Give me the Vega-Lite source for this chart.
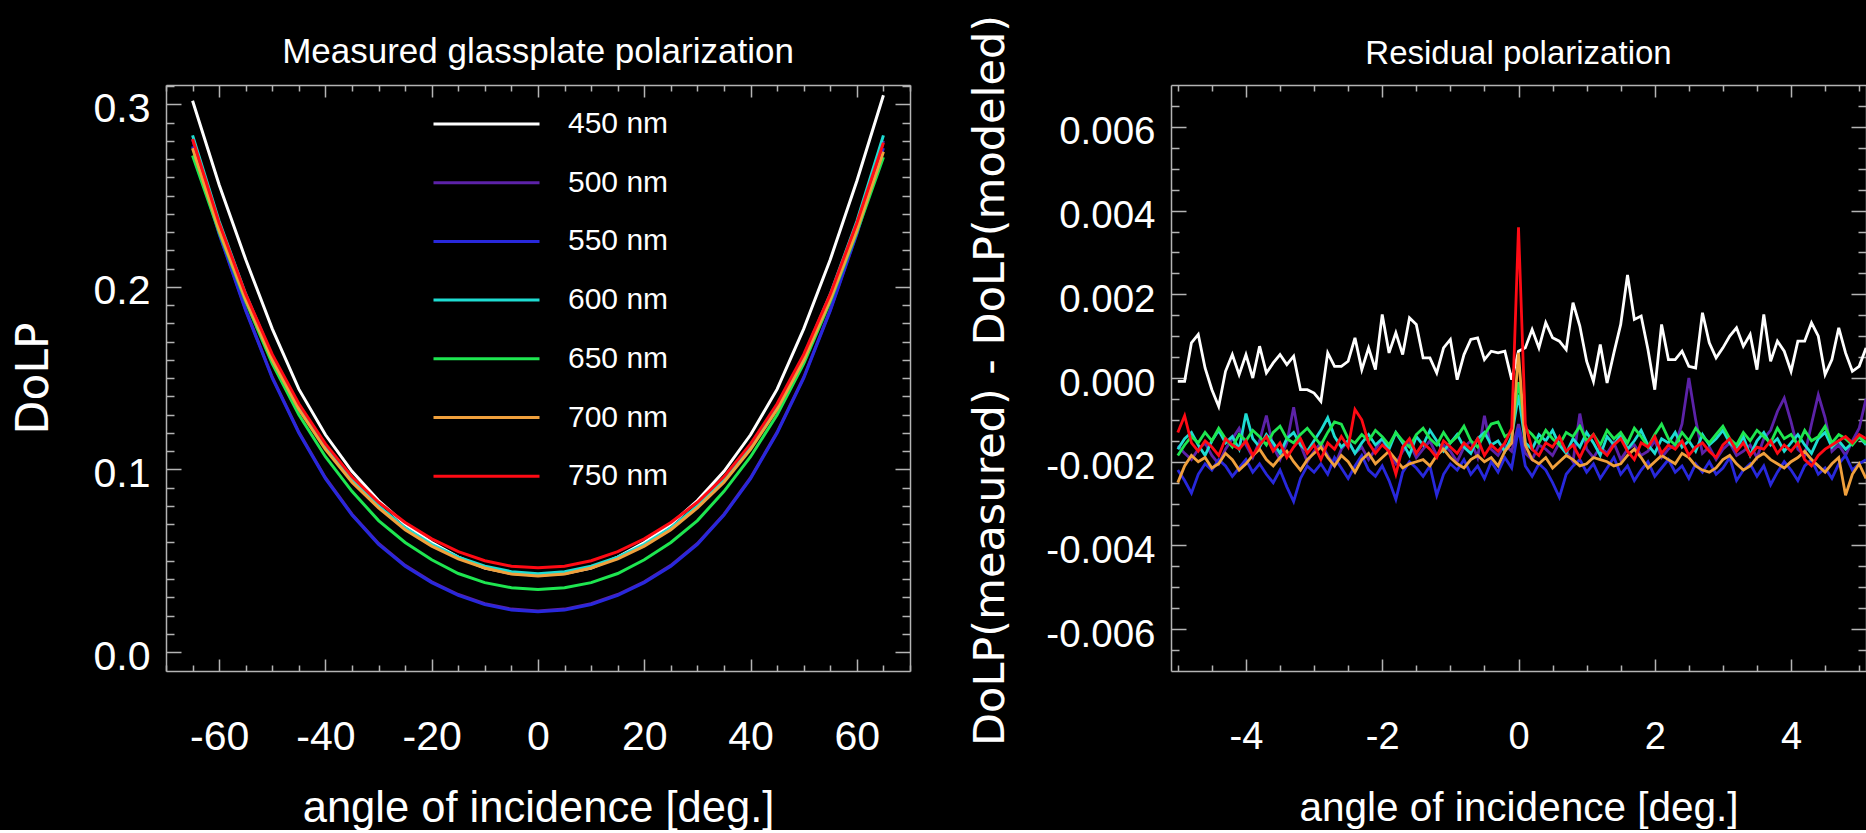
{
  "$schema": "https://vega.github.io/schema/vega-lite/v6.json",
  "background": "black",
  "autosize": {"type": "pad"},
  "padding": {"left": 12, "top": 14, "right": 0, "bottom": 0},
  "config": {
    "view": {"stroke": null},
    "font": "Liberation Sans",
    "axis": {
      "domainColor": "#b4b4b4", "domainWidth": 1.5, "tickColor": "#b4b4b4", "tickWidth": 1.5,
      "grid": false, "labelColor": "white", "titleColor": "white", "labelFont": "Liberation Sans",
      "titleFont": "Liberation Sans", "labelOverlap": false, "labelFlush": false, "titleFontWeight": "normal", "labelBound": false
    },
    "title": {"color": "white", "font": "Liberation Sans", "fontWeight": "normal", "anchor": "middle", "frame": "group", "baseline": "alphabetic"}
  },
  "datasets": {
    "glass": [
      {"a":-65,"450":0.302,"500":0.281,"550":0.277,"600":0.283,"650":0.272,"700":0.276,"750":0.281},
      {"a":-60,"450":0.256,"500":0.2295,"550":0.229,"600":0.236,"650":0.23,"700":0.231,"750":0.235},
      {"a":-55,"450":0.215,"500":0.1875,"550":0.187,"600":0.196,"650":0.192,"700":0.193,"750":0.196},
      {"a":-50,"450":0.177,"500":0.1505,"550":0.15,"600":0.162,"650":0.158,"700":0.16,"750":0.163},
      {"a":-45,"450":0.144,"500":0.1205,"550":0.12,"600":0.134,"650":0.13,"700":0.133,"750":0.136},
      {"a":-40,"450":0.119,"500":0.0955,"550":0.095,"600":0.112,"650":0.107,"700":0.111,"750":0.114},
      {"a":-35,"450":0.099,"500":0.0755,"550":0.075,"600":0.094,"650":0.088,"700":0.093,"750":0.096},
      {"a":-30,"450":0.083,"500":0.0595,"550":0.059,"600":0.08,"650":0.072,"700":0.079,"750":0.082},
      {"a":-25,"450":0.07,"500":0.0475,"550":0.047,"600":0.068,"650":0.06,"700":0.067,"750":0.071},
      {"a":-20,"450":0.06,"500":0.0385,"550":0.038,"600":0.059,"650":0.0505,"700":0.058,"750":0.062},
      {"a":-15,"450":0.052,"500":0.0315,"550":0.031,"600":0.052,"650":0.043,"700":0.051,"750":0.055},
      {"a":-10,"450":0.046,"500":0.0265,"550":0.026,"600":0.047,"650":0.038,"700":0.046,"750":0.05},
      {"a":-5,"450":0.043,"500":0.0235,"550":0.023,"600":0.044,"650":0.0352,"700":0.0427,"750":0.047},
      {"a":0,"450":0.042,"500":0.0225,"550":0.022,"600":0.0429,"650":0.0343,"700":0.0416,"750":0.0461},
      {"a":5,"450":0.043,"500":0.0235,"550":0.023,"600":0.044,"650":0.0352,"700":0.0427,"750":0.047},
      {"a":10,"450":0.046,"500":0.0265,"550":0.026,"600":0.047,"650":0.038,"700":0.046,"750":0.05},
      {"a":15,"450":0.052,"500":0.0315,"550":0.031,"600":0.052,"650":0.043,"700":0.051,"750":0.055},
      {"a":20,"450":0.06,"500":0.0385,"550":0.038,"600":0.059,"650":0.0505,"700":0.058,"750":0.062},
      {"a":25,"450":0.07,"500":0.0475,"550":0.047,"600":0.068,"650":0.06,"700":0.067,"750":0.071},
      {"a":30,"450":0.083,"500":0.0595,"550":0.059,"600":0.08,"650":0.072,"700":0.079,"750":0.082},
      {"a":35,"450":0.099,"500":0.0755,"550":0.075,"600":0.094,"650":0.088,"700":0.093,"750":0.096},
      {"a":40,"450":0.119,"500":0.0955,"550":0.095,"600":0.112,"650":0.107,"700":0.111,"750":0.114},
      {"a":45,"450":0.144,"500":0.1205,"550":0.12,"600":0.134,"650":0.13,"700":0.133,"750":0.136},
      {"a":50,"450":0.177,"500":0.1505,"550":0.15,"600":0.162,"650":0.158,"700":0.16,"750":0.163},
      {"a":55,"450":0.215,"500":0.1875,"550":0.187,"600":0.196,"650":0.192,"700":0.193,"750":0.196},
      {"a":60,"450":0.258,"500":0.2295,"550":0.229,"600":0.236,"650":0.23,"700":0.231,"750":0.235},
      {"a":65,"450":0.305,"500":0.28,"550":0.276,"600":0.283,"650":0.271,"700":0.274,"750":0.279}
    ],
    "resid": [
      {"a":-5.0,"450":-0.00008,"500":-0.00162,"550":-0.0022,"600":-0.0017,"650":-0.00185,"700":-0.0025,"750":-0.0013},
      {"a":-4.9,"450":-0.00008,"500":-0.0018,"550":-0.00245,"600":-0.00145,"650":-0.0016,"700":-0.0021,"750":-0.0009},
      {"a":-4.8,"450":0.00084,"500":-0.00195,"550":-0.00275,"600":-0.0013,"650":-0.0014,"700":-0.00185,"750":-0.00155},
      {"a":-4.7,"450":0.00104,"500":-0.0017,"550":-0.0023,"600":-0.0016,"650":-0.00155,"700":-0.002,"750":-0.00175},
      {"a":-4.6,"450":0.00024,"500":-0.00155,"550":-0.00205,"600":-0.00185,"650":-0.0013,"700":-0.0019,"750":-0.0015},
      {"a":-4.5,"450":-0.00028,"500":-0.00185,"550":-0.0022,"600":-0.0015,"650":-0.0015,"700":-0.00215,"750":-0.00165},
      {"a":-4.4,"450":-0.00068,"500":-0.00205,"550":-0.00195,"600":-0.00125,"650":-0.0012,"700":-0.00205,"750":-0.00185},
      {"a":-4.3,"450":0.00016,"500":-0.0017,"550":-0.0021,"600":-0.00155,"650":-0.00145,"700":-0.0018,"750":-0.00145},
      {"a":-4.2,"450":0.00056,"500":-0.00145,"550":-0.00235,"600":-0.0014,"650":-0.00165,"700":-0.00195,"750":-0.0016},
      {"a":-4.1,"450":0.00008,"500":-0.0012,"550":-0.00215,"600":-0.0017,"650":-0.00135,"700":-0.0022,"750":-0.0017},
      {"a":-4.0,"450":0.00056,"500":-0.0016,"550":-0.00195,"600":-0.00085,"650":-0.0015,"700":-0.00205,"750":-0.0015},
      {"a":-3.9,"450":0,"500":-0.0019,"550":-0.00225,"600":-0.00145,"650":-0.00125,"700":-0.00185,"750":-0.00185},
      {"a":-3.8,"450":0.00076,"500":-0.0015,"550":-0.00205,"600":-0.00165,"650":-0.0014,"700":-0.0017,"750":-0.0016},
      {"a":-3.7,"450":0.00012,"500":-0.0009,"550":-0.0023,"600":-0.00135,"650":-0.0016,"700":-0.00195,"750":-0.0014},
      {"a":-3.6,"450":0.00036,"500":-0.00165,"550":-0.0025,"600":-0.00155,"650":-0.0013,"700":-0.0021,"750":-0.00175},
      {"a":-3.5,"450":0.00056,"500":-0.00195,"550":-0.0022,"600":-0.0018,"650":-0.00115,"700":-0.0019,"750":-0.00155},
      {"a":-3.4,"450":0.00032,"500":-0.00155,"550":-0.0026,"600":-0.00145,"650":-0.00145,"700":-0.00175,"750":-0.0019},
      {"a":-3.3,"450":0.00052,"500":-0.0007,"550":-0.00295,"600":-0.0013,"650":-0.00155,"700":-0.002,"750":-0.00165},
      {"a":-3.2,"450":-0.00028,"500":-0.0016,"550":-0.0024,"600":-0.0016,"650":-0.00135,"700":-0.0022,"750":-0.00145},
      {"a":-3.1,"450":-0.00028,"500":-0.002,"550":-0.0021,"600":-0.00175,"650":-0.0012,"700":-0.00195,"750":-0.0018},
      {"a":-3.0,"450":-0.00036,"500":-0.00175,"550":-0.00225,"600":-0.0015,"650":-0.0014,"700":-0.0018,"750":-0.0016},
      {"a":-2.9,"450":-0.00056,"500":-0.00155,"550":-0.00205,"600":-0.00125,"650":-0.0016,"700":-0.00165,"750":-0.00195},
      {"a":-2.8,"450":0.0006,"500":-0.00185,"550":-0.0023,"600":-0.00095,"650":-0.0013,"700":-0.0019,"750":-0.00155},
      {"a":-2.7,"450":0.00028,"500":-0.0021,"550":-0.0019,"600":-0.0014,"650":-0.00105,"700":-0.0021,"750":-0.0017},
      {"a":-2.6,"450":0.00028,"500":-0.0017,"550":-0.00215,"600":-0.00165,"650":-0.0011,"700":-0.00185,"750":-0.0014},
      {"a":-2.5,"450":0.0004,"500":-0.0015,"550":-0.0024,"600":-0.0015,"650":-0.00145,"700":-0.002,"750":-0.00165},
      {"a":-2.4,"450":0.00096,"500":-0.0018,"550":-0.0021,"600":-0.0018,"650":-0.00155,"700":-0.00225,"750":-0.00075},
      {"a":-2.3,"450":0.0002,"500":-0.00165,"550":-0.00185,"600":-0.00155,"650":-0.00135,"700":-0.00195,"750":-0.001},
      {"a":-2.2,"450":0.00072,"500":-0.00195,"550":-0.0022,"600":-0.00135,"650":-0.0015,"700":-0.0018,"750":-0.00155},
      {"a":-2.1,"450":0.0002,"500":-0.0017,"550":-0.00235,"600":-0.0016,"650":-0.00125,"700":-0.00205,"750":-0.0018},
      {"a":-2.0,"450":0.00152,"500":-0.00145,"550":-0.0021,"600":-0.00145,"650":-0.0014,"700":-0.0019,"750":-0.0016},
      {"a":-1.9,"450":0.0006,"500":-0.0018,"550":-0.00245,"600":-0.0017,"650":-0.0016,"700":-0.00175,"750":-0.00175},
      {"a":-1.8,"450":0.00108,"500":-0.00205,"550":-0.0029,"600":-0.0013,"650":-0.0013,"700":-0.00195,"750":-0.0023},
      {"a":-1.7,"450":0.00056,"500":-0.00175,"550":-0.00225,"600":-0.00155,"650":-0.0015,"700":-0.00215,"750":-0.00165},
      {"a":-1.6,"450":0.00144,"500":-0.00155,"550":-0.002,"600":-0.00185,"650":-0.00165,"700":-0.00205,"750":-0.00145},
      {"a":-1.5,"450":0.00128,"500":-0.0019,"550":-0.00215,"600":-0.0014,"650":-0.00135,"700":-0.002,"750":-0.0018},
      {"a":-1.4,"450":0.00048,"500":-0.0017,"550":-0.00235,"600":-0.0016,"650":-0.0012,"700":-0.00195,"750":-0.00155},
      {"a":-1.3,"450":0.00048,"500":-0.0015,"550":-0.0021,"600":-0.00125,"650":-0.00145,"700":-0.0021,"750":-0.0017},
      {"a":-1.2,"450":0.00012,"500":-0.00185,"550":-0.0028,"600":-0.0015,"650":-0.0016,"700":-0.00185,"750":-0.0019},
      {"a":-1.1,"450":0.00072,"500":-0.0016,"550":-0.0023,"600":-0.00175,"650":-0.0013,"700":-0.0017,"750":-0.0015},
      {"a":-1.0,"450":0.00092,"500":-0.00175,"550":-0.00205,"600":-0.00155,"650":-0.00155,"700":-0.0019,"750":-0.00165},
      {"a":-0.9,"450":-0.00004,"500":-0.002,"550":-0.0022,"600":-0.00135,"650":-0.0014,"700":-0.00205,"750":-0.0018},
      {"a":-0.8,"450":0.00056,"500":-0.00165,"550":-0.00195,"600":-0.00165,"650":-0.00115,"700":-0.00215,"750":-0.00155},
      {"a":-0.7,"450":0.00092,"500":-0.0015,"550":-0.0023,"600":-0.0018,"650":-0.0015,"700":-0.00195,"750":-0.0017},
      {"a":-0.6,"450":0.00096,"500":-0.0019,"550":-0.0021,"600":-0.00145,"650":-0.00165,"700":-0.00185,"750":-0.00145},
      {"a":-0.5,"450":0.00044,"500":-0.0009,"550":-0.0024,"600":-0.0013,"650":-0.00135,"700":-0.002,"750":-0.00185},
      {"a":-0.4,"450":0.00064,"500":-0.0017,"550":-0.002,"600":-0.0016,"650":-0.0011,"700":-0.0019,"750":-0.0016},
      {"a":-0.3,"450":0.0006,"500":-0.00185,"550":-0.00225,"600":-0.0015,"650":-0.00105,"700":-0.0021,"750":-0.00175},
      {"a":-0.2,"450":0.00064,"500":-0.0016,"550":-0.0019,"600":-0.00175,"650":-0.0014,"700":-0.00175,"750":-0.00155},
      {"a":-0.1,"450":-0.00004,"500":-0.00175,"550":-0.00215,"600":-0.0014,"650":-0.0013,"700":-0.00155,"750":-0.0012},
      {"a":0.0,"450":0.00064,"500":-0.0011,"550":-0.0012,"600":-0.0004,"650":-0.0001,"700":0.0006,"750":0.0036},
      {"a":0.1,"450":0.00072,"500":-0.0018,"550":-0.0021,"600":-0.00155,"650":-0.0012,"700":-0.0016,"750":-0.0011},
      {"a":0.2,"450":0.00116,"500":-0.00195,"550":-0.00235,"600":-0.0017,"650":-0.00135,"700":-0.00195,"750":-0.0017},
      {"a":0.3,"450":0.00072,"500":-0.0016,"550":-0.00205,"600":-0.00135,"650":-0.00155,"700":-0.00205,"750":-0.00185},
      {"a":0.4,"450":0.00132,"500":-0.0017,"550":-0.0022,"600":-0.0015,"650":-0.00125,"700":-0.0019,"750":-0.00155},
      {"a":0.5,"450":0.00096,"500":-0.00185,"550":-0.0025,"600":-0.00125,"650":-0.00145,"700":-0.00215,"750":-0.00165},
      {"a":0.6,"450":0.00088,"500":-0.00155,"550":-0.00285,"600":-0.0016,"650":-0.0016,"700":-0.002,"750":-0.0014},
      {"a":0.7,"450":0.00068,"500":-0.00175,"550":-0.0023,"600":-0.0018,"650":-0.0013,"700":-0.00185,"750":-0.00175},
      {"a":0.8,"450":0.0018,"500":-0.002,"550":-0.0021,"600":-0.00145,"650":-0.0014,"700":-0.00195,"750":-0.0016},
      {"a":0.9,"450":0.00124,"500":-0.00085,"550":-0.00195,"600":-0.00165,"650":-0.00115,"700":-0.0021,"750":-0.0019},
      {"a":1.0,"450":0.0004,"500":-0.0017,"550":-0.00225,"600":-0.0013,"650":-0.0015,"700":-0.00205,"750":-0.00155},
      {"a":1.1,"450":-0.00008,"500":-0.0019,"550":-0.00205,"600":-0.00155,"650":-0.00135,"700":-0.0019,"750":-0.00135},
      {"a":1.2,"450":0.0008,"500":-0.00165,"550":-0.0024,"600":-0.00185,"650":-0.0016,"700":-0.00195,"750":-0.0017},
      {"a":1.3,"450":-0.00012,"500":-0.0018,"550":-0.00215,"600":-0.0014,"650":-0.00125,"700":-0.002,"750":-0.00185},
      {"a":1.4,"450":0.0006,"500":-0.00155,"550":-0.0019,"600":-0.0016,"650":-0.00145,"700":-0.0021,"750":-0.0016},
      {"a":1.5,"450":0.00128,"500":-0.00195,"550":-0.0023,"600":-0.00135,"650":-0.0013,"700":-0.00205,"750":-0.00145},
      {"a":1.6,"450":0.00246,"500":-0.0017,"550":-0.0021,"600":-0.0017,"650":-0.00155,"700":-0.00185,"750":-0.00175},
      {"a":1.7,"450":0.0014,"500":-0.0016,"550":-0.00245,"600":-0.0015,"650":-0.0012,"700":-0.0017,"750":-0.00195},
      {"a":1.8,"450":0.00148,"500":-0.00185,"550":-0.0022,"600":-0.00125,"650":-0.0014,"700":-0.0019,"750":-0.00155},
      {"a":1.9,"450":0.00068,"500":-0.00175,"550":-0.002,"600":-0.0016,"650":-0.00165,"700":-0.00215,"750":-0.00165},
      {"a":2.0,"450":-0.00028,"500":-0.0015,"550":-0.00235,"600":-0.0018,"650":-0.00135,"700":-0.002,"750":-0.0014},
      {"a":2.1,"450":0.00128,"500":-0.0019,"550":-0.00215,"600":-0.00145,"650":-0.0011,"700":-0.00185,"750":-0.0018},
      {"a":2.2,"450":0.00044,"500":-0.0017,"550":-0.00195,"600":-0.00155,"650":-0.00145,"700":-0.00195,"750":-0.0016},
      {"a":2.3,"450":0.00044,"500":-0.0016,"550":-0.00225,"600":-0.0013,"650":-0.0016,"700":-0.00205,"750":-0.0017},
      {"a":2.4,"450":0.00064,"500":-0.0011,"550":-0.0021,"600":-0.00165,"650":-0.0013,"700":-0.0018,"750":-0.0015},
      {"a":2.5,"450":0.00028,"500":0,"550":-0.0024,"600":-0.0015,"650":-0.0015,"700":-0.0019,"750":-0.00185},
      {"a":2.6,"450":0.00024,"500":-0.001,"550":-0.00205,"600":-0.00175,"650":-0.0012,"700":-0.0021,"750":-0.00165},
      {"a":2.7,"450":0.00156,"500":-0.0018,"550":-0.00225,"600":-0.00135,"650":-0.0014,"700":-0.0022,"750":-0.00155},
      {"a":2.8,"450":0.00084,"500":-0.00165,"550":-0.002,"600":-0.0016,"650":-0.00155,"700":-0.00225,"750":-0.00175},
      {"a":2.9,"450":0.00048,"500":-0.00195,"550":-0.0023,"600":-0.00145,"650":-0.00135,"700":-0.00215,"750":-0.0019},
      {"a":3.0,"450":0.00072,"500":-0.0017,"550":-0.00215,"600":-0.00125,"650":-0.00115,"700":-0.00195,"750":-0.0016},
      {"a":3.1,"450":0.001,"500":-0.00155,"550":-0.0019,"600":-0.00155,"650":-0.00145,"700":-0.00185,"750":-0.00145},
      {"a":3.2,"450":0.0012,"500":-0.00185,"550":-0.00245,"600":-0.0017,"650":-0.0016,"700":-0.00205,"750":-0.00175},
      {"a":3.3,"450":0.00076,"500":-0.00175,"550":-0.0022,"600":-0.0014,"650":-0.0013,"700":-0.0022,"750":-0.00155},
      {"a":3.4,"450":0.00104,"500":-0.0016,"550":-0.00205,"600":-0.00185,"650":-0.0015,"700":-0.0021,"750":-0.00185},
      {"a":3.5,"450":0.0002,"500":-0.0019,"550":-0.00235,"600":-0.0015,"650":-0.00125,"700":-0.0019,"750":-0.00165},
      {"a":3.6,"450":0.00152,"500":-0.00145,"550":-0.0021,"600":-0.0013,"650":-0.0014,"700":-0.0018,"750":-0.0017},
      {"a":3.7,"450":0.0004,"500":-0.00125,"550":-0.00255,"600":-0.0016,"650":-0.00155,"700":-0.00195,"750":-0.0015},
      {"a":3.8,"450":0.00088,"500":-0.0008,"550":-0.00225,"600":-0.00145,"650":-0.0012,"700":-0.00205,"750":-0.0018},
      {"a":3.9,"450":0.00064,"500":-0.00048,"550":-0.002,"600":-0.00175,"650":-0.00145,"700":-0.00215,"750":-0.0016},
      {"a":4.0,"450":0.00016,"500":-0.00105,"550":-0.0022,"600":-0.00155,"650":-0.00135,"700":-0.002,"750":-0.00175},
      {"a":4.1,"450":0.00088,"500":-0.0017,"550":-0.00245,"600":-0.00135,"650":-0.0016,"700":-0.0019,"750":-0.00155},
      {"a":4.2,"450":0.00088,"500":-0.00185,"550":-0.0021,"600":-0.0016,"650":-0.00125,"700":-0.00175,"750":-0.00195},
      {"a":4.3,"450":0.00132,"500":-0.0011,"550":-0.00195,"600":-0.0018,"650":-0.0015,"700":-0.00195,"750":-0.0021},
      {"a":4.4,"450":0.001,"500":-0.0004,"550":-0.0023,"600":-0.00145,"650":-0.0014,"700":-0.0021,"750":-0.00185},
      {"a":4.5,"450":0.00008,"500":-0.00095,"550":-0.00215,"600":-0.0013,"650":-0.00115,"700":-0.00225,"750":-0.0017},
      {"a":4.6,"450":0.00044,"500":-0.00175,"550":-0.0024,"600":-0.00165,"650":-0.00155,"700":-0.00205,"750":-0.0016},
      {"a":4.7,"450":0.0012,"500":-0.0016,"550":-0.00205,"600":-0.0015,"650":-0.00135,"700":-0.0019,"750":-0.0015},
      {"a":4.8,"450":0.0006,"500":-0.00185,"550":-0.00185,"600":-0.0017,"650":-0.00145,"700":-0.0028,"750":-0.0014},
      {"a":4.9,"450":0.00016,"500":-0.0015,"550":-0.0022,"600":-0.00155,"650":-0.0016,"700":-0.0023,"750":-0.00155},
      {"a":5.0,"450":0.00028,"500":-0.0012,"550":-0.00205,"600":-0.0014,"650":-0.0014,"700":-0.00205,"750":-0.00135},
      {"a":5.1,"450":0.00072,"500":-0.0005,"550":-0.00195,"600":-0.0016,"650":-0.00155,"700":-0.0024,"750":-0.00145}
    ]
  },
  "spacing": 261,
  "bounds": "flush",
  "resolve": {"scale": {"color": "independent"}, "legend": {"color": "independent"}},
  "hconcat": [
    {
      "width": 744,
      "height": 586,
      "title": {"text": "Measured glassplate polarization", "fontSize": 35, "offset": 0},
      "data": {"name": "glass"},
      "transform": [{"fold": ["450", "500", "550", "600", "650", "700", "750"], "as": ["wl", "dolp"]}],
      "layer": [
        {
          "mark": {"type": "line", "strokeWidth": 3, "clip": true},
          "encoding": {
            "x": {
              "field": "a", "type": "quantitative",
              "scale": {"domain": [-70, 70], "nice": false, "zero": false},
              "axis": {
                "orient": "bottom",
                "values": [-70,-65,-60,-55,-50,-45,-40,-35,-30,-25,-20,-15,-10,-5,0,5,10,15,20,25,30,35,40,45,50,55,60,65,70],
                "tickSize": {"condition": {"test": "datum.value % 20 == 0", "value": -12}, "value": -6},
                "labelExpr": "datum.value % 20 == 0 ? replace(format(datum.value, 'd'), '\u2212', '-') : ''",
                "labelFontSize": 41, "labelBaseline": "alphabetic", "labelAlign": "center", "labelPadding": 90,
                "title": "angle of incidence [deg.]", "titleFontSize": 43.5, "titleY": 150, "titleBaseline": "alphabetic", "titleAlign": "center"
              }
            },
            "y": {
              "field": "dolp", "type": "quantitative",
              "scale": {"domain": [-0.0104, 0.3106], "nice": false, "zero": false},
              "axis": {
                "orient": "left",
                "values": [0,0.01,0.02,0.03,0.04,0.05,0.06,0.07,0.08,0.09,0.1,0.11,0.12,0.13,0.14,0.15,0.16,0.17,0.18,0.19,0.2,0.21,0.22,0.23,0.24,0.25,0.26,0.27,0.28,0.29,0.3,0.31],
                "tickSize": {"condition": {"test": "abs(datum.value*10 - round(datum.value*10)) < 0.001", "value": -15}, "value": -8},
                "labelExpr": "abs(datum.value*10 - round(datum.value*10)) < 0.001 ? format(datum.value, '.1f') : ''",
                "labelFontSize": 41, "labelBaseline": "middle", "labelAlign": "right", "labelPadding": 31, "labelOffset": 5,
                "title": "DoLP", "titleFont": "DejaVu Sans", "titleFontSize": 44, "titleX": -119, "titleAngle": 270, "titleBaseline": "alphabetic", "titleAlign": "center"
              }
            },
            "color": {
              "field": "wl", "type": "nominal",
              "scale": {"domain": ["450", "500", "550", "600", "650", "700", "750"], "range": ["#ffffff", "#5c22a8", "#2828dc", "#1edcd2", "#1ee650", "#f0a03c", "#ff0a14"]},
              "legend": {
                "orient": "none", "legendX": 266, "legendY": 24, "title": null,
                "symbolType": "stroke", "symbolSize": 11236, "symbolStrokeWidth": 3, "clipHeight": 30,
                "rowPadding": 28.7, "labelFontSize": 30, "labelColor": "white", "labelFont": "Liberation Sans",
                "labelOffset": 27, "padding": 0, "symbolOffset": 0, "labelExpr": "datum.label + ' nm'"
              }
            }
          }
        },
        {
          "mark": {"type": "point", "opacity": 0},
          "encoding": {
            "x": {
              "field": "a", "type": "quantitative",
              "scale": {"domain": [-70, 70], "nice": false, "zero": false},
              "axis": {
                "orient": "top", "labels": false, "title": null,
                "values": [-70,-65,-60,-55,-50,-45,-40,-35,-30,-25,-20,-15,-10,-5,0,5,10,15,20,25,30,35,40,45,50,55,60,65,70],
                "tickSize": {"condition": {"test": "datum.value % 20 == 0", "value": -12}, "value": -6}
              }
            },
            "y": {
              "field": "dolp", "type": "quantitative",
              "scale": {"domain": [-0.0104, 0.3106], "nice": false, "zero": false},
              "axis": {
                "orient": "right", "labels": false, "title": null,
                "values": [0,0.01,0.02,0.03,0.04,0.05,0.06,0.07,0.08,0.09,0.1,0.11,0.12,0.13,0.14,0.15,0.16,0.17,0.18,0.19,0.2,0.21,0.22,0.23,0.24,0.25,0.26,0.27,0.28,0.29,0.3,0.31],
                "tickSize": {"condition": {"test": "abs(datum.value*10 - round(datum.value*10)) < 0.001", "value": -15}, "value": -8}
              }
            }
          }
        }
      ],
      "resolve": {"axis": {"x": "independent", "y": "independent"}}
    },
    {
      "width": 695,
      "height": 586,
      "title": {"text": "Residual polarization", "fontSize": 33, "offset": -57},
      "data": {"name": "resid"},
      "transform": [{"fold": ["450", "500", "550", "600", "650", "700", "750"], "as": ["wl", "res"]}],
      "layer": [
        {
          "mark": {"type": "line", "strokeWidth": 2.8, "clip": true},
          "encoding": {
            "x": {
              "field": "a", "type": "quantitative",
              "scale": {"domain": [-5.1, 5.1], "nice": false, "zero": false},
              "axis": {
                "orient": "bottom",
                "values": [-5,-4.5,-4,-3.5,-3,-2.5,-2,-1.5,-1,-0.5,0,0.5,1,1.5,2,2.5,3,3.5,4,4.5,5],
                "tickSize": {"condition": {"test": "abs(datum.value/2 - round(datum.value/2)) < 0.001", "value": -12}, "value": -6},
                "labelExpr": "abs(datum.value/2 - round(datum.value/2)) < 0.001 ? replace(format(datum.value, 'd'), '\u2212', '-') : ''",
                "labelFontSize": 38, "labelBaseline": "alphabetic", "labelAlign": "center", "labelPadding": 89,
                "title": "angle of incidence [deg.]", "titleFontSize": 40.5, "titleY": 149, "titleBaseline": "alphabetic", "titleAlign": "center"
              }
            },
            "y": {
              "field": "res", "type": "quantitative",
              "scale": {"domain": [-0.007, 0.007], "nice": false, "zero": false},
              "axis": {
                "orient": "left",
                "values": [-0.0065,-0.006,-0.0055,-0.005,-0.0045,-0.004,-0.0035,-0.003,-0.0025,-0.002,-0.0015,-0.001,-0.0005,0,0.0005,0.001,0.0015,0.002,0.0025,0.003,0.0035,0.004,0.0045,0.005,0.0055,0.006,0.0065],
                "tickSize": {"condition": {"test": "abs(datum.value*500 - round(datum.value*500)) < 0.001", "value": -15}, "value": -8},
                "labelExpr": "abs(datum.value*500 - round(datum.value*500)) < 0.001 ? replace(format(datum.value, '.3f'), '\u2212', '-') : ''",
                "labelFontSize": 38.5, "labelBaseline": "middle", "labelAlign": "right", "labelPadding": 31, "labelOffset": 5,
                "title": "DoLP(measured) - DoLP(modeled)", "titleFont": "DejaVu Sans", "titleFontSize": 43, "titleX": -168, "titleY": 295, "titleAngle": 270, "titleBaseline": "alphabetic", "titleAlign": "center"
              }
            },
            "color": {
              "field": "wl", "type": "nominal",
              "scale": {"domain": ["450", "500", "550", "600", "650", "700", "750"], "range": ["#ffffff", "#5c22a8", "#2828dc", "#1edcd2", "#1ee650", "#f0a03c", "#ff0a14"]},
              "legend": null
            }
          }
        },
        {
          "mark": {"type": "point", "opacity": 0},
          "encoding": {
            "x": {
              "field": "a", "type": "quantitative",
              "scale": {"domain": [-5.1, 5.1], "nice": false, "zero": false},
              "axis": {
                "orient": "top", "labels": false, "title": null,
                "values": [-5,-4.5,-4,-3.5,-3,-2.5,-2,-1.5,-1,-0.5,0,0.5,1,1.5,2,2.5,3,3.5,4,4.5,5],
                "tickSize": {"condition": {"test": "abs(datum.value/2 - round(datum.value/2)) < 0.001", "value": -12}, "value": -6}
              }
            },
            "y": {
              "field": "res", "type": "quantitative",
              "scale": {"domain": [-0.007, 0.007], "nice": false, "zero": false},
              "axis": {
                "orient": "right", "labels": false, "title": null,
                "values": [-0.0065,-0.006,-0.0055,-0.005,-0.0045,-0.004,-0.0035,-0.003,-0.0025,-0.002,-0.0015,-0.001,-0.0005,0,0.0005,0.001,0.0015,0.002,0.0025,0.003,0.0035,0.004,0.0045,0.005,0.0055,0.006,0.0065],
                "tickSize": {"condition": {"test": "abs(datum.value*500 - round(datum.value*500)) < 0.001", "value": -15}, "value": -8}
              }
            }
          }
        }
      ],
      "resolve": {"axis": {"x": "independent", "y": "independent"}}
    }
  ]
}
